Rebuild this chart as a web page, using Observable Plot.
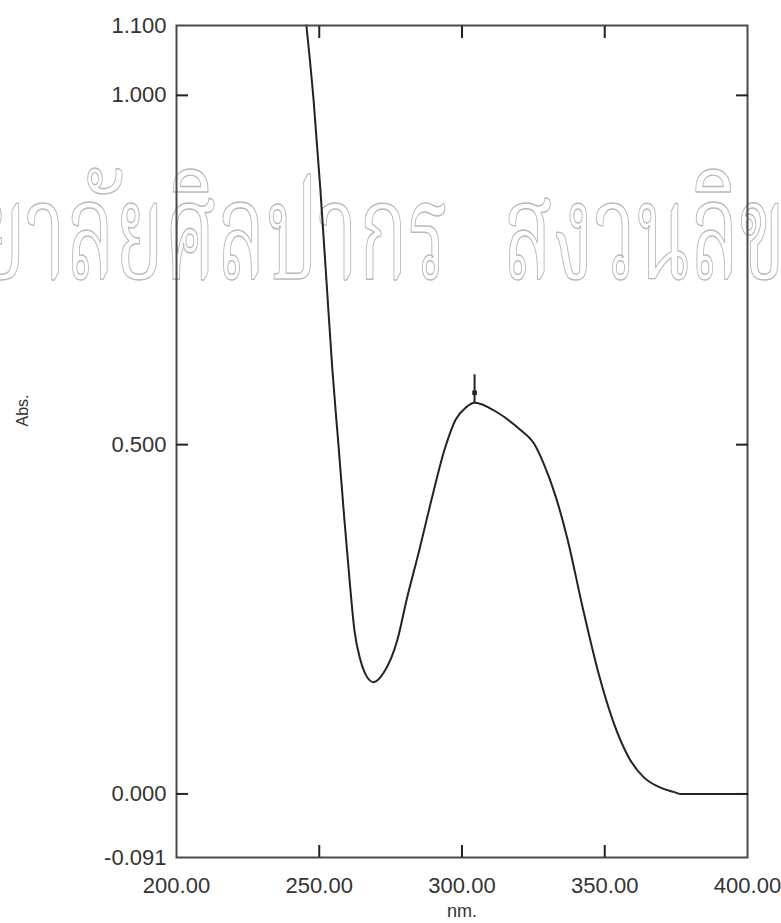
<!DOCTYPE html>
<html>
<head>
<meta charset="utf-8">
<style>
  body { margin: 0; background: #fff; }
</style>
<script src="https://cdn.jsdelivr.net/npm/d3@7"></script>
<script src="https://cdn.jsdelivr.net/npm/@observablehq/plot@0.6"></script>
</head>
<body>
<div id="chart"></div>
<script>
// UV-Vis absorption spectrum (wavelength in nm, absorbance)
const wavelength = [245.5, 248.0, 250.4, 252.5, 254.6, 256.7, 258.8, 260.6, 262.3, 264.4, 266.5, 269.0,
  272.5, 277.4, 280.6, 285.1, 289.3, 293.9, 297.8, 301.3, 304.4,
  312.4, 320.5, 325.0, 328.5, 332.8, 337.0, 342.2, 347.8, 353.1, 358.3, 363.6, 369.5, 374.1, 376.5, 400.0];
const absorbance = [1.100, 0.994, 0.865, 0.736, 0.607, 0.501, 0.393, 0.307, 0.235, 0.192, 0.169, 0.160,
  0.173, 0.221, 0.278, 0.350, 0.421, 0.493, 0.536, 0.553, 0.560,
  0.546, 0.521, 0.503, 0.474, 0.426, 0.364, 0.268, 0.173, 0.102, 0.053, 0.024, 0.009, 0.003, 0.000, 0.000];

// Axis ticks and labels
const xTickValues = [200, 250, 300, 350, 400];
const xTickLabels = ["200.00", "250.00", "300.00", "350.00", "400.00"];
const xInnerTicks = [250, 300, 350];
const yTickValues = [1.1, 1.0, 0.5, 0.0, -0.091];
const yTickLabels = ["1.100", "1.000", "0.500", "0.000", "-0.091"];
const yInnerTicks = [1.0, 0.5, 0.0];

// background copyright lettering (wide gap between the two words)
const watermark = "มหาวิทยาลัยศิลปากร\u2002\u2006สงวนลิขสิทธิ์";

const spectrum = wavelength.map((wl, i) => ({wl, abs: absorbance[i]}));
const peak = spectrum.reduce((a, b) => (b.wl > 290 && b.abs > a.abs ? b : a), {wl: 0, abs: -1});

const ink = "#222";
const frameInk = "#4a4a4a";

const chart = Plot.plot({
  width: 781,
  height: 923,
  marginLeft: 176,
  marginRight: 34,
  marginTop: 25,
  marginBottom: 66,
  style: {fontFamily: "'Liberation Sans', Arial, sans-serif", fontSize: "22px", color: "#333", background: "#fff"},
  x: {domain: [200, 400]},
  y: {domain: [-0.091, 1.1]},
  marks: [
    Plot.text([watermark], {
      text: d => d, frameAnchor: "middle", textAnchor: "start", dx: -725, dy: -206,
      fontSize: 136, fill: "none", stroke: "#b8b8b8", strokeWidth: 1.4,
      fontFamily: "'Noto Serif Thai', 'Noto Sans Thai', Loma, Garuda, sans-serif"
    }),
    Plot.line(spectrum, {x: "wl", y: "abs", stroke: ink, strokeWidth: 2, curve: "monotone-x"}),
    Plot.ruleX([peak], {x: "wl", y1: "abs", y2: d => d.abs + 0.04, stroke: ink, strokeWidth: 2}),
    Plot.dot([peak], {x: "wl", y: "abs", dy: -10, symbol: "square", r: 2.6, fill: ink, stroke: null}),
    Plot.frame({stroke: frameInk, strokeWidth: 2}),
    // inward tick marks on all four sides
    Plot.axisY({anchor: "left", ticks: yInnerTicks, tickSize: -12, tickFormat: () => "", label: null, stroke: ink, strokeWidth: 2}),
    Plot.axisY({anchor: "right", ticks: yInnerTicks, tickSize: -12, tickFormat: () => "", label: null, stroke: ink, strokeWidth: 2}),
    Plot.axisX({anchor: "bottom", ticks: xInnerTicks, tickSize: -12, tickFormat: () => "", label: null, stroke: ink, strokeWidth: 2}),
    Plot.axisX({anchor: "top", ticks: xInnerTicks, tickSize: -12, tickFormat: () => "", label: null, stroke: ink, strokeWidth: 2}),
    // tick labels
    Plot.axisY({anchor: "left", ticks: yTickValues, tickSize: 0, tickPadding: 10,
      tickFormat: d => yTickLabels[yTickValues.indexOf(d)], label: null, fill: "#333"}),
    Plot.axisX({anchor: "bottom", ticks: xTickValues, tickSize: 0, tickPadding: 20,
      tickFormat: d => xTickLabels[xTickValues.indexOf(d)], label: null, fill: "#333"}),
    // axis titles
    Plot.text(["Abs."], {text: d => d, frameAnchor: "left", dx: -154, dy: -15, rotate: -90, fontSize: 16, fill: "#333"}),
    Plot.text(["nm."], {text: d => d, frameAnchor: "bottom", dy: 59, fontSize: 18, fill: "#333"})
  ]
});

// condense the watermark lettering horizontally
d3.select(chart).selectAll("text").filter(function () { return this.textContent === watermark; })
  .each(function () {
    const t = d3.select(this);
    t.attr("transform", (t.attr("transform") || "") + " scale(0.601,1)");
  });

document.getElementById("chart").appendChild(chart);
</script>
</body>
</html>
